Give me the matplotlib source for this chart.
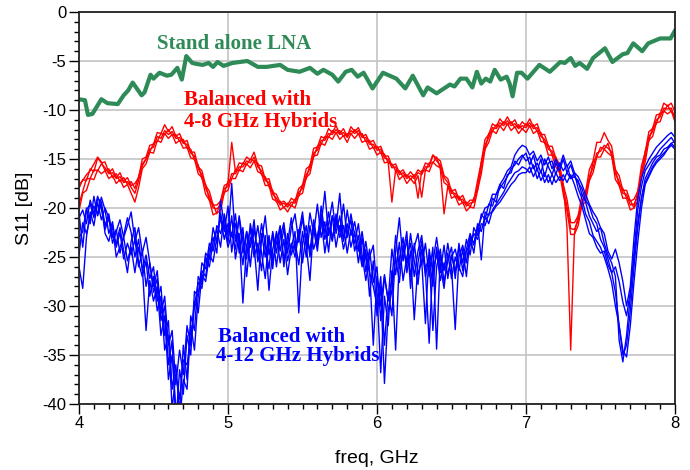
import numpy as np
import matplotlib
matplotlib.use('Agg')
from matplotlib import pyplot as plt
from matplotlib.ticker import MultipleLocator

# swept frequency points (GHz) of the balanced amplifier traces
freq = np.linspace(4.0, 8.0, 161)

# stand alone LNA
freq_lna = [4.00, 4.04, 4.06, 4.09, 4.15, 4.19, 4.26, 4.30, 4.33, 4.36, 4.42, 4.44, 4.48, 4.50,
            4.54, 4.59, 4.62, 4.66, 4.69, 4.72, 4.76, 4.79, 4.83, 4.87, 4.90, 4.93, 4.97, 5.03,
            5.13, 5.20, 5.26, 5.35, 5.40, 5.48, 5.55, 5.60, 5.64, 5.70, 5.74, 5.79, 5.83, 5.87,
            5.91, 5.97, 6.04, 6.13, 6.19, 6.24, 6.31, 6.34, 6.40, 6.49, 6.52, 6.56, 6.60, 6.64,
            6.67, 6.70, 6.73, 6.76, 6.79, 6.83, 6.87, 6.89, 6.91, 6.94, 6.97, 7.01, 7.09, 7.16,
            7.23, 7.26, 7.30, 7.33, 7.36, 7.41, 7.45, 7.53, 7.58, 7.65, 7.68, 7.72, 7.78, 7.82,
            7.90, 7.97, 8.00]
s11_lna = [-8.9, -9.0, -10.5, -10.4, -8.9, -9.3, -9.4, -8.5, -8.0, -7.2, -8.5, -8.2, -6.4, -6.8,
           -6.2, -6.5, -6.4, -5.7, -6.9, -4.5, -5.2, -5.3, -5.4, -5.2, -5.6, -5.1, -5.5, -5.2,
           -5.0, -5.6, -5.6, -5.4, -5.9, -6.1, -5.7, -6.3, -5.9, -6.4, -7.1, -6.1, -5.9, -6.6,
           -6.2, -7.8, -6.2, -6.8, -7.8, -6.5, -8.5, -7.7, -8.3, -7.4, -7.6, -6.8, -6.8, -7.7,
           -6.1, -7.3, -6.8, -7.1, -5.9, -6.9, -6.6, -7.3, -8.6, -6.2, -6.2, -6.8, -5.4, -6.1,
           -5.1, -5.2, -4.7, -5.5, -5.2, -5.8, -4.7, -3.7, -5.1, -4.3, -4.2, -3.2, -4.0, -3.2,
           -2.7, -2.7, -1.9]

# balanced with 4-8 GHz hybrids
s11_48_a = [-18.0, -17.1, -17.2, -16.0, -16.3, -14.9, -15.4, -15.3, -16.4, -16.0, -16.9, -16.4, -17.3, -16.9, -17.7, -17.5, -16.9, -15.0, -14.8, -13.6,
            -13.5, -12.3, -12.4, -11.5, -12.2, -11.7, -12.7, -12.4, -13.3, -13.1, -14.3, -14.3, -15.8, -16.2, -17.7, -18.3, -19.7, -19.7, -19.3, -17.7,
            -17.5, -13.3, -16.3, -15.4, -15.5, -14.8, -15.1, -14.3, -15.6, -15.7, -17.1, -17.0, -18.4, -18.6, -19.5, -19.3, -19.7, -19.0, -19.3, -18.0,
            -17.7, -16.0, -15.7, -13.9, -13.8, -12.7, -12.9, -11.9, -12.3, -11.6, -12.4, -11.9, -12.7, -11.7, -12.2, -11.8, -12.7, -12.5, -13.3, -13.1,
            -13.9, -13.7, -14.7, -14.7, -15.7, -15.5, -16.4, -16.1, -16.8, -16.3, -16.8, -16.1, -16.4, -15.4, -15.6, -14.6, -14.9, -15.2, -16.7, -17.0,
            -18.3, -18.1, -19.1, -18.7, -19.6, -19.2, -19.2, -17.2, -15.3, -13.0, -12.5, -11.4, -11.7, -10.9, -11.4, -10.7, -11.4, -11.0, -11.8, -11.2,
            -11.6, -10.9, -11.7, -11.4, -12.5, -12.5, -13.7, -13.7, -14.9, -15.5, -17.6, -19.1, -21.5, -21.5, -20.8, -18.7, -18.4, -16.1, -15.2, -13.3,
            -13.3, -12.3, -13.1, -13.7, -16.1, -16.7, -18.2, -18.2, -19.3, -19.1, -18.3, -15.7, -14.3, -12.2, -11.9, -10.5, -10.4, -9.3, -9.6, -9.3,
            -10.2]
s11_48_b = [-20.3, -18.5, -18.2, -17.0, -17.1, -16.1, -16.5, -16.2, -17.0, -16.7, -17.5, -17.1, -17.9, -17.6, -18.5, -19.4, -17.9, -16.0, -15.5, -14.3,
            -14.4, -13.1, -13.3, -12.4, -12.9, -12.5, -13.4, -13.1, -13.9, -13.8, -14.9, -15.0, -16.5, -16.9, -18.6, -19.2, -20.7, -20.5, -20.3, -18.4,
            -18.2, -17.0, -17.0, -16.1, -16.3, -15.5, -15.9, -15.2, -16.3, -16.5, -17.7, -17.7, -19.1, -19.3, -20.2, -19.9, -20.4, -19.7, -20.0, -18.7,
            -18.5, -16.9, -16.5, -14.7, -14.6, -13.4, -13.6, -12.7, -13.0, -12.3, -13.0, -12.6, -13.3, -12.4, -12.9, -12.4, -13.3, -13.1, -14.0, -13.8,
            -14.6, -14.3, -15.4, -15.3, -19.4, -16.1, -17.1, -16.7, -17.5, -17.0, -17.5, -16.7, -18.9, -16.1, -16.3, -15.3, -15.7, -15.9, -17.4, -17.7,
            -19.0, -18.8, -19.7, -19.4, -20.3, -19.9, -20.0, -18.2, -16.5, -14.0, -13.3, -12.1, -12.4, -11.6, -12.1, -11.4, -12.1, -11.7, -12.4, -11.9,
            -12.3, -11.6, -12.4, -12.1, -13.2, -13.3, -14.6, -14.6, -15.8, -16.4, -18.6, -20.3, -22.7, -22.7, -21.8, -19.7, -19.4, -17.2, -16.4, -14.8,
            -14.8, -14.0, -14.4, -14.7, -17.1, -17.7, -19.0, -19.0, -20.2, -20.0, -19.3, -16.7, -15.3, -13.1, -12.7, -11.3, -11.2, -10.1, -10.4, -10.1,
            -11.2]
s11_48_c = [-17.6, -17.2, -16.6, -16.2, -15.5, -14.8, -15.3, -16.2, -16.0, -16.9, -16.5, -17.3, -16.9, -17.6, -17.3, -18.0, -16.8, -15.5, -15.0, -14.0,
            -13.8, -12.7, -12.9, -12.1, -12.5, -12.2, -12.9, -12.8, -13.4, -13.5, -14.4, -14.7, -16.0, -16.6, -18.0, -18.8, -20.0, -20.1, -19.7, -18.0,
            -17.8, -16.5, -16.5, -15.8, -15.8, -15.2, -15.4, -14.8, -15.8, -16.2, -17.2, -17.4, -18.6, -19.0, -19.7, -19.5, -19.9, -19.4, -19.5, -18.4,
            -18.0, -16.6, -16.0, -14.4, -14.1, -13.1, -13.1, -12.4, -12.5, -12.0, -12.5, -12.3, -12.8, -12.1, -12.4, -12.1, -12.8, -12.8, -13.5, -13.5,
            -14.1, -14.0, -14.9, -15.0, -15.9, -15.8, -16.6, -16.4, -17.0, -16.7, -17.0, -16.4, -16.6, -15.8, -15.8, -14.6, -15.2, -15.6, -16.9, -17.4,
            -18.5, -18.5, -19.2, -19.1, -19.8, -19.5, -19.4, -17.8, -15.9, -13.6, -12.8, -11.8, -11.9, -11.3, -11.6, -11.1, -11.6, -11.4, -11.9, -11.6,
            -11.8, -11.3, -11.9, -11.8, -12.7, -13.0, -14.0, -14.2, -15.3, -16.0, -18.1, -19.8, -22.1, -22.2, -21.3, -19.3, -18.9, -16.8, -15.9, -14.4,
            -14.2, -13.6, -13.9, -14.3, -16.5, -17.3, -18.5, -18.6, -19.7, -19.6, -18.8, -16.3, -14.8, -12.7, -12.2, -11.0, -10.7, -9.8, -9.9, -9.8,
            -10.9]
s11_48_d = [-19.6, -18.3, -17.0, -17.0, -16.1, -16.2, -15.5, -15.9, -16.5, -16.4, -17.0, -16.8, -17.4, -17.3, -17.9, -18.5, -17.2, -15.7, -15.0, -14.3,
            -13.4, -13.2, -12.4, -12.5, -12.0, -12.6, -12.5, -13.2, -13.0, -13.9, -14.0, -15.1, -15.6, -17.0, -17.6, -19.2, -19.6, -20.6, -19.3, -18.5,
            -17.3, -17.0, -16.1, -16.2, -15.4, -15.6, -15.0, -15.2, -15.4, -16.6, -16.8, -17.8, -18.2, -19.4, -19.3, -20.0, -19.5, -19.8, -19.1, -18.8,
            -17.6, -17.0, -15.6, -14.8, -13.7, -13.5, -12.7, -12.8, -12.1, -12.4, -12.1, -12.7, -12.4, -12.5, -12.0, -12.5, -12.4, -13.2, -13.1, -13.9,
            -13.7, -14.4, -14.5, -15.4, -15.5, -16.2, -16.2, -16.8, -16.6, -17.1, -16.6, -19.0, -16.2, -16.2, -15.4, -15.4, -14.8, -16.0, -20.6, -17.8,
            -18.1, -18.9, -18.8, -19.5, -19.4, -19.9, -19.0, -18.2, -15.3, -14.0, -12.4, -12.2, -11.5, -11.7, -11.2, -11.5, -11.2, -11.8, -11.5, -12.0,
            -11.4, -11.7, -11.5, -12.2, -12.3, -13.4, -13.6, -14.6, -14.8, -16.4, -17.6, -22.0, -34.5, -22.6, -20.8, -19.7, -18.3, -17.2, -15.3, -14.8,
            -13.8, -14.0, -13.4, -14.7, -16.1, -17.7, -18.0, -19.0, -19.2, -20.0, -18.3, -16.7, -14.2, -13.1, -11.8, -11.4, -10.3, -10.2, -9.5, -10.2,
            -10.5]

# balanced with 4-12 GHz hybrids
s11_412_a = [-20.5, -24.0, -20.2, -19.6, -21.0, -19.0, -19.4, -21.8, -20.6, -23.0, -22.2, -24.6, -22.8, -21.0, -22.5, -25.0, -23.2, -26.4, -24.8, -27.2,
             -26.0, -29.5, -28.0, -33.0, -31.5, -38.5, -36.0, -41.0, -34.0, -37.5, -31.0, -32.5, -27.0, -27.8, -24.6, -25.2, -22.0, -23.6, -20.5, -22.4,
             -19.8, -24.5, -21.6, -23.0, -25.8, -22.4, -24.0, -21.2, -25.5, -23.4, -20.8, -24.8, -22.6, -26.0, -23.0, -21.5, -24.6, -22.0, -20.6, -23.5,
             -21.0, -23.8, -20.5, -22.6, -19.6, -23.0, -21.4, -24.5, -20.8, -22.0, -18.5, -23.2, -21.6, -24.0, -22.4, -25.6, -23.0, -26.5, -24.2, -27.6,
             -26.0, -31.5, -27.0, -29.5, -24.2, -26.8, -23.5, -27.4, -25.0, -23.6, -27.0, -24.4, -22.8, -26.2, -25.0, -28.0, -24.0, -26.6, -23.8, -27.2,
             -24.8, -26.5, -24.0, -25.6, -23.2, -24.8, -22.0, -22.8, -20.6, -21.2, -19.6, -19.8, -18.6, -18.0, -17.4, -16.8, -16.0, -15.6, -15.0, -14.6,
             -15.2, -14.8, -16.0, -15.4, -16.4, -15.0, -15.8, -16.6, -15.4, -16.2, -15.0, -16.4, -15.6, -16.8, -17.2, -18.6, -19.4, -20.8, -21.6, -22.4,
             -22.0, -23.6, -24.8, -25.6, -27.0, -33.5, -35.7, -33.0, -29.0, -24.5, -20.2, -17.8, -16.2, -15.6, -15.0, -14.6, -14.0, -13.6, -13.2, -12.8,
             -13.4]
s11_412_b = [-24.8, -21.5, -22.6, -21.0, -19.8, -20.6, -18.9, -20.2, -22.6, -21.4, -24.0, -22.5, -25.2, -23.6, -24.8, -23.2, -26.0, -24.4, -28.0, -25.6,
             -28.6, -27.2, -31.5, -30.0, -36.0, -33.5, -42.0, -36.5, -39.0, -33.0, -35.0, -28.5, -29.0, -25.6, -26.2, -23.6, -24.4, -21.8, -22.6, -21.0,
             -23.5, -20.8, -25.2, -22.6, -29.7, -23.8, -22.2, -25.0, -23.6, -26.4, -22.8, -28.4, -24.2, -22.6, -25.6, -23.2, -26.8, -24.0, -22.4, -30.7,
             -23.6, -21.8, -25.0, -22.2, -24.4, -20.6, -23.2, -21.6, -19.4, -22.6, -20.8, -23.4, -20.2, -22.8, -21.4, -23.8, -26.0, -24.2, -29.0, -25.4,
             -31.0, -28.0, -37.9, -30.5, -28.4, -25.0, -27.6, -23.8, -26.0, -22.6, -25.4, -27.8, -24.2, -26.4, -33.8, -25.6, -23.0, -25.8, -28.2, -24.6,
             -27.2, -25.0, -26.4, -24.2, -27.0, -23.0, -24.6, -21.6, -25.3, -20.4, -20.8, -19.0, -19.4, -17.6, -18.0, -16.6, -16.4, -15.2, -15.6, -14.8,
             -14.4, -15.6, -14.6, -16.2, -15.0, -16.8, -15.4, -15.2, -16.6, -15.4, -16.2, -15.6, -17.0, -16.4, -18.0, -19.0, -20.6, -21.4, -22.8, -23.4,
             -24.0, -25.0, -26.2, -27.6, -30.0, -32.0, -35.0, -34.0, -30.5, -26.0, -22.0, -19.0, -17.0, -16.2, -15.4, -14.8, -14.6, -14.0, -13.8, -13.4,
             -13.8]
s11_412_c = [-26.0, -28.2, -23.0, -20.4, -21.8, -19.4, -21.2, -20.0, -21.0, -22.8, -23.6, -22.0, -24.4, -26.6, -23.4, -22.0, -25.6, -27.0, -25.4, -29.0,
             -27.0, -30.5, -29.0, -34.5, -33.0, -40.5, -37.0, -39.5, -35.5, -36.0, -33.5, -29.5, -30.7, -26.8, -27.5, -24.8, -25.5, -23.0, -21.0, -23.2,
             -21.6, -22.8, -20.6, -24.6, -22.0, -27.0, -23.0, -24.2, -21.8, -24.6, -27.2, -22.8, -25.4, -23.6, -21.8, -26.0, -22.6, -24.8, -23.4, -25.8,
             -22.4, -25.0, -21.8, -24.2, -22.8, -21.0, -24.6, -22.0, -23.4, -20.6, -23.0, -21.8, -24.6, -22.2, -23.6, -21.6, -24.8, -27.4, -25.0, -23.8,
             -28.4, -36.8, -29.0, -32.0, -26.4, -34.5, -25.2, -23.0, -26.6, -24.4, -31.4, -25.6, -23.4, -27.0, -24.8, -32.5, -26.0, -24.2, -27.6, -25.4,
             -24.0, -27.2, -23.6, -26.4, -24.2, -22.6, -23.8, -21.8, -22.4, -20.8, -21.6, -20.2, -19.6, -19.0, -18.4, -17.6, -17.0, -16.4, -16.2, -15.8,
             -16.0, -16.4, -15.6, -17.0, -16.2, -17.4, -16.6, -17.6, -16.4, -17.2, -16.6, -17.4, -16.6, -17.6, -18.8, -19.8, -21.2, -22.6, -23.0, -24.0,
             -24.6, -24.4, -25.8, -26.6, -26.0, -27.5, -29.6, -31.0, -28.6, -25.0, -21.5, -19.0, -17.4, -16.6, -15.8, -15.2, -14.8, -14.4, -14.0, -13.6,
             -14.0]
s11_412_d = [-21.0, -20.2, -21.6, -19.2, -20.6, -18.8, -20.0, -22.2, -21.0, -23.6, -22.4, -21.2, -23.0, -21.8, -20.4, -23.4, -22.0, -24.6, -23.0, -25.6,
             -28.0, -26.4, -30.8, -29.0, -34.0, -32.5, -38.0, -34.5, -37.0, -32.0, -34.0, -30.0, -27.6, -28.2, -25.0, -26.0, -23.4, -22.2, -24.0, -20.6,
             -22.8, -17.5, -23.4, -21.0, -24.6, -22.4, -26.0, -22.0, -24.8, -21.6, -23.8, -26.2, -22.4, -24.6, -22.0, -25.2, -23.6, -21.0, -24.4, -22.2,
             -25.6, -22.6, -24.4, -21.2, -23.6, -19.8, -22.6, -20.4, -23.2, -21.0, -22.4, -19.6, -23.0, -20.6, -22.8, -24.4, -22.4, -25.2, -26.6, -28.0,
             -30.0, -27.0, -34.0, -28.6, -31.0, -24.4, -21.0, -25.4, -23.2, -27.0, -24.0, -22.6, -25.8, -23.6, -27.0, -24.0, -34.4, -24.8, -26.4, -23.6,
             -26.0, -32.4, -25.0, -23.8, -25.6, -22.8, -23.6, -22.0, -21.0, -20.0, -19.8, -18.6, -18.6, -17.6, -17.0, -16.2, -15.8, -14.6, -14.0, -13.6,
             -13.8, -14.6, -14.2, -15.2, -14.6, -15.6, -14.8, -16.0, -15.0, -15.8, -14.6, -15.8, -15.2, -16.4, -16.8, -17.6, -18.6, -19.6, -20.4, -21.0,
             -22.0, -22.6, -24.4, -25.2, -24.2, -25.6, -27.5, -30.0, -28.0, -23.0, -19.0, -17.0, -15.8, -15.0, -14.4, -13.8, -13.4, -13.0, -12.6, -12.3,
             -12.8]
s11_412_e = [-23.0, -22.4, -20.0, -21.6, -18.8, -20.8, -19.6, -22.6, -23.4, -21.8, -25.0, -24.0, -23.0, -25.4, -24.0, -26.6, -24.0, -26.0, -32.5, -27.4,
             -29.5, -28.0, -33.0, -31.0, -37.5, -35.0, -40.5, -42.0, -37.5, -38.5, -32.0, -34.5, -29.0, -26.4, -27.0, -24.2, -23.0, -24.6, -19.2, -21.8,
             -24.0, -22.6, -24.2, -20.8, -23.4, -25.2, -21.6, -23.8, -28.4, -22.6, -25.0, -23.0, -26.2, -22.4, -24.4, -22.0, -25.4, -23.6, -25.0, -22.6,
             -20.4, -23.8, -27.4, -21.6, -23.8, -21.8, -18.3, -22.8, -20.8, -24.0, -21.8, -24.2, -22.6, -21.2, -24.4, -22.8, -25.6, -23.4, -26.2, -34.0,
             -27.0, -30.0, -26.8, -29.4, -27.4, -22.8, -26.2, -24.6, -22.4, -28.2, -23.6, -26.8, -25.4, -31.8, -24.2, -26.6, -24.6, -27.4, -25.6, -26.8,
             -25.0, -24.2, -26.0, -27.0, -24.4, -23.8, -22.6, -23.2, -21.6, -21.8, -20.6, -20.4, -19.8, -19.4, -18.8, -18.2, -17.6, -17.2, -16.6, -16.4,
             -16.4, -15.8, -16.8, -16.0, -17.2, -16.4, -17.4, -16.6, -17.4, -16.8, -17.2, -16.4, -17.0, -16.8, -17.4, -18.0, -19.2, -19.8, -21.0, -21.6,
             -23.2, -24.0, -25.2, -26.6, -28.6, -32.0, -34.5, -35.2, -32.0, -27.5, -23.5, -20.0, -17.6, -16.8, -16.0, -15.4, -15.0, -14.6, -14.0, -13.4,
             -13.2]

traces_48 = [s11_48_a, s11_48_b, s11_48_c, s11_48_d]
traces_412 = [s11_412_a, s11_412_b, s11_412_c, s11_412_d, s11_412_e]

x_ticks = [4, 5, 6, 7, 8]
y_ticks = [0, -5, -10, -15, -20, -25, -30, -35, -40]

plt.rcParams['axes.unicode_minus'] = False
sans = 'Liberation Sans'
serif = 'Liberation Serif'

fig = plt.figure(figsize=(6.9, 4.7), dpi=100)
ax = fig.add_axes([79 / 690, 66 / 470, 596 / 690, 392 / 470])

for tr in traces_48:
    ax.plot(freq, tr, color='#ff0000', lw=1.0)
for tr in traces_412:
    ax.plot(freq, tr, color='#0000ff', lw=1.0)
ax.plot(freq_lna, s11_lna, color='#2e8b57', lw=3.0, solid_joinstyle='round')

ax.set_xlim(4, 8)
ax.set_ylim(-40, 0)
ax.set_xticks(x_ticks)
ax.set_yticks(y_ticks)
ax.set_xticklabels([str(v) for v in x_ticks], fontsize=12, family=sans)
ax.set_yticklabels([str(v) for v in y_ticks], fontsize=12, family=sans)
ax.xaxis.set_minor_locator(MultipleLocator(0.1))
ax.yaxis.set_minor_locator(MultipleLocator(1))
ax.tick_params(which='major', direction='out', length=7, width=1.0, pad=2)
ax.tick_params(which='minor', direction='out', length=3.5, width=1.0)
ax.grid(True, which='major', color='#c4c4c4', lw=1.2)
ax.set_axisbelow(True)
for s in ax.spines.values():
    s.set_linewidth(1.3)
    s.set_color('#222222')

ax.set_xlabel('freq, GHz', fontsize=14, family=sans, labelpad=13)
ax.set_ylabel('S11 [dB]', fontsize=14, family=sans, labelpad=7)

ax.text(4.523, -3.27, 'Stand alone LNA', color='#2e8b57', fontsize=15,
        fontweight='bold', family=serif, va='center', ha='left')
ax.text(4.705, -8.98, 'Balanced with', color='#ff0000', fontsize=15,
        fontweight='bold', family=serif, va='center', ha='left')
ax.text(4.705, -11.2, '4-8 GHz Hybrids', color='#ff0000', fontsize=15,
        fontweight='bold', family=serif, va='center', ha='left')
ax.text(4.93, -33.2, 'Balanced with', color='#0000ff', fontsize=15,
        fontweight='bold', family=serif, va='center', ha='left')
ax.text(4.92, -35.1, '4-12 GHz Hybrids', color='#0000ff', fontsize=15,
        fontweight='bold', family=serif, va='center', ha='left')

fig.savefig('out.png', dpi=100)
